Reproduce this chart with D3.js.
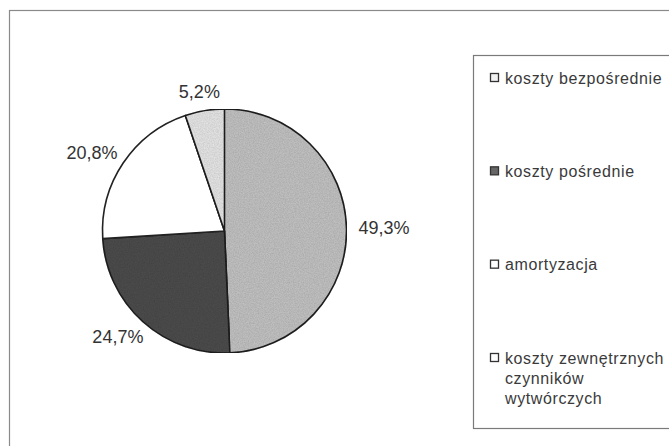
<!DOCTYPE html>
<html><head><meta charset="utf-8">
<script src="https://cdn.jsdelivr.net/npm/d3@7"></script>
<style>body{margin:0;background:#fff}svg{display:block}</style>
</head><body>
<svg id="c" width="669" height="446"></svg>
<script>
const categories = ["koszty bezpośrednie", "koszty pośrednie", "amortyzacja", "koszty zewnętrznych czynników wytwórczych"];
const values = [49.3, 24.7, 20.8, 5.2];
const labels = ["49,3%", "24,7%", "20,8%", "5,2%"];
const legendLines = [["koszty bezpośrednie"], ["koszty pośrednie"], ["amortyzacja"], ["koszty zewnętrznych", "czynników", "wytwórczych"]];
const fills = ["#c2c2c2", "#4d4d4d", "#ffffff", "#e6e6e6"];
const legendFills = ["#f2f2f2", "#666666", "#ffffff", "#ffffff"];

const svg = d3.select("#c");
const font = "'Liberation Sans', Arial, sans-serif";

// noise filter to imitate the print texture
const defs = svg.append("defs");
const f = defs.append("filter").attr("id","grain").attr("x",0).attr("y",0).attr("width",1).attr("height",1);
f.append("feTurbulence").attr("type","fractalNoise").attr("baseFrequency",0.8).attr("numOctaves",2).attr("seed",3).attr("result","n");
f.append("feColorMatrix").attr("in","n").attr("type","matrix")
 .attr("values","0 0 0 0 0  0 0 0 0 0  0 0 0 0 0  0 0 0 0.35 -0.05").attr("result","a");
f.append("feComposite").attr("in","a").attr("in2","SourceGraphic").attr("operator","in").attr("result","b");
f.append("feMerge").call(m=>{m.append("feMergeNode").attr("in","SourceGraphic");m.append("feMergeNode").attr("in","b");});

// outer frame
svg.append("rect").attr("x",9.5).attr("y",10.5).attr("width",700).attr("height",500)
  .attr("fill","none").attr("stroke","#8a8a8a").attr("stroke-width",1.2);

// pie
const cx = 224.5, cy = 231, r = 122;
const pie = d3.pie().sort(null).value(d => d)(values);
const arc = d3.arc().innerRadius(0).outerRadius(r);
const g = svg.append("g").attr("transform", `translate(${cx},${cy})`);
g.selectAll("path").data(pie).join("path")
  .attr("d", arc)
  .attr("fill", (d,i) => fills[i])
  .attr("filter", (d,i) => i===2 ? null : "url(#grain)")
  .attr("stroke", "#222").attr("stroke-width", 1.6).attr("stroke-linejoin","round");

const gap = 12, fs = 18;
g.selectAll("text").data(pie).join("text")
  .attr("text-anchor","middle").attr("dy","0.36em")
  .attr("font-family", font).attr("font-size", fs).attr("fill","#333")
  .text((d,i) => labels[i])
  .each(function(d){
    const a = (d.startAngle + d.endAngle)/2;
    const w = this.getComputedTextLength();
    const s = Math.sin(a), c = Math.cos(a);
    const x = (r+gap)*s + (w/2)*s;
    const y = -(r+gap)*c - (fs*0.4)*c;
    d3.select(this).attr("transform", `translate(${x},${y})`);
  });

// legend
svg.append("rect").attr("x",473.5).attr("y",55.5).attr("width",300).attr("height",373)
  .attr("fill","none").attr("stroke","#7a7a7a").attr("stroke-width",1.2);

const rowY = d3.scalePoint().domain(categories).range([78, 358]);
const lg = svg.append("g");
categories.forEach((c,i) => {
  const y = rowY(c);
  lg.append("rect").attr("x",490.5).attr("y",y-4.5).attr("width",8).attr("height",8)
    .attr("fill",legendFills[i]).attr("stroke","#333").attr("stroke-width",1.3);
  const t = lg.append("text").attr("x",505).attr("y",y)
    .attr("font-family",font).attr("font-size",16).attr("letter-spacing",0.6).attr("fill","#3a3a3a");
  legendLines[i].forEach((line,j) => {
    t.append("tspan").attr("x",505).attr("dy", j===0 ? "0.36em" : 20).text(line);
  });
});
</script>
</body></html>
